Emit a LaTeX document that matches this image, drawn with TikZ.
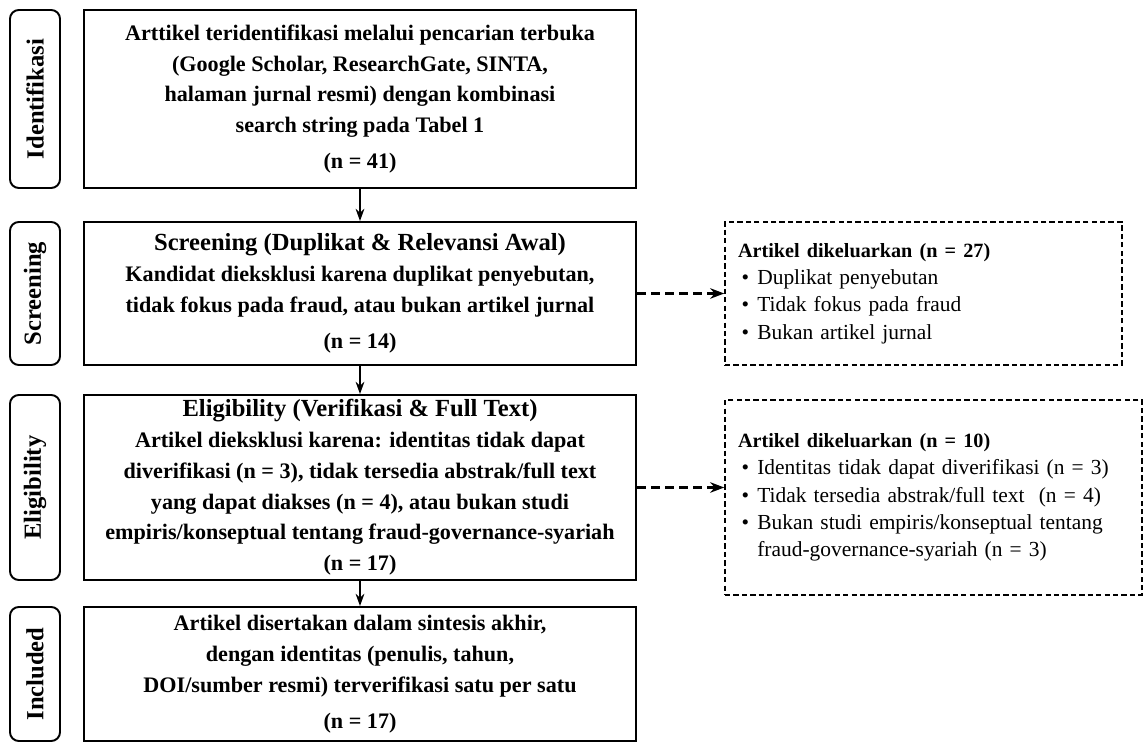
\documentclass[tikz,border=0pt]{standalone}
\usepackage{fontspec}
\setmainfont{Liberation Serif}
\usetikzlibrary{arrows.meta}

\begin{document}
\begin{tikzpicture}[
    phase/.style={draw=black, line width=1.1pt, rounded corners=5pt, minimum width=1cm, inner sep=0pt},
    stage/.style={draw=black, line width=1.1pt, minimum width=11.04cm, inner sep=0pt, align=center,
        font=\fontsize{12.6}{17.5}\selectfont\bfseries},
    excluded/.style={draw=black, line width=0.9pt, dash pattern=on 3pt off 1.8pt, inner xsep=0.26cm, inner ysep=0pt,
        align=left, font=\fontsize{12.2}{15.5}\selectfont},
    flow/.style={line width=0.9pt, -{Stealth[length=7pt,width=5pt]}},
    side/.style={line width=1.4pt, dash pattern=on 5pt off 3pt, -{Stealth[length=8pt,width=6pt]}}
]
    \useasboundingbox (0,0) rectangle (22.88,14.86);
    % stage labels on the left
    \node[phase, minimum height=3.56cm] (p1) at (0.7,12.88) {\rotatebox{90}{\fontsize{14}{16}\selectfont\bfseries Identifikasi}};
    \node[phase, minimum height=2.86cm] (p2) at (0.7,8.99) {\rotatebox{90}{\fontsize{14}{16}\selectfont\bfseries Screening}};
    \node[phase, minimum height=3.7cm] (p3) at (0.7,5.11) {\rotatebox{90}{\fontsize{14}{16}\selectfont\bfseries Eligibility}};
    \node[phase, minimum height=2.68cm] (p4) at (0.7,1.38) {\rotatebox{90}{\fontsize{14}{16}\selectfont\bfseries Included}};

    % main flow
    \node[stage, minimum height=3.56cm] (ident) at (7.2,12.88) {Arttikel teridentifikasi melalui pencarian terbuka\\
        (Google Scholar, ResearchGate, SINTA,\\ halaman jurnal resmi) dengan kombinasi\\
        search string pada Tabel 1\\[3pt] (n = 41)};
    \node[stage, minimum height=2.86cm] (screen) at (7.2,8.99) {{\fontsize{14}{17.5}\selectfont Screening (Duplikat \& Relevansi Awal)}\\
        Kandidat dieksklusi karena duplikat penyebutan,\\ tidak fokus pada fraud, atau bukan artikel jurnal\\[3pt] (n = 14)};
    \node[stage, minimum height=3.7cm] (elig) at (7.2,5.11) {{\fontsize{14}{17.5}\selectfont Eligibility (Verifikasi \& Full Text)}\\
        Artikel dieksklusi karena: identitas tidak dapat\\ diverifikasi (n = 3), tidak tersedia abstrak/full text\\
        yang dapat diakses (n = 4), atau bukan studi\\ empiris/konseptual tentang fraud-governance-syariah\\ (n = 17)};
    \node[stage, minimum height=2.68cm] (incl) at (7.2,1.38) {Artikel disertakan dalam sintesis akhir,\\
        dengan identitas (penulis, tahun,\\ DOI/sumber resmi) terverifikasi satu per satu\\[3pt] (n = 17)};

    % excluded records
    \node[excluded, minimum height=2.86cm, text width=7.42cm] (out1) at (18.47,8.99) {{\fontsize{11.5}{15.5}\selectfont\bfseries Artikel dikeluarkan (n = 27)}\\
        \hspace*{2pt}\makebox[9pt][l]{\textbullet}Duplikat penyebutan\\
        \hspace*{2pt}\makebox[9pt][l]{\textbullet}Tidak fokus pada fraud\\
        \hspace*{2pt}\makebox[9pt][l]{\textbullet}Bukan artikel jurnal};
    \node[excluded, minimum height=3.9cm, text width=7.82cm] (out2) at (18.67,4.91) {{\fontsize{11.5}{15.5}\selectfont\bfseries Artikel dikeluarkan (n = 10)}\\
        \hspace*{2pt}\makebox[9pt][l]{\textbullet}Identitas tidak dapat diverifikasi (n = 3)\\
        \hspace*{2pt}\makebox[9pt][l]{\textbullet}Tidak tersedia abstrak/full text\ \ (n = 4)\\
        \hspace*{2pt}\makebox[9pt][l]{\textbullet}Bukan studi empiris/konseptual tentang\\
        \hspace*{11pt}fraud-governance-syariah (n = 3)};

    \draw[flow] (ident) -- (screen);
    \draw[flow] (screen) -- (elig);
    \draw[flow] (elig) -- (incl);
    \draw[side] (screen) -- (out1);
    \draw[side] (elig.east) -- (elig.east -| out2.west);
\end{tikzpicture}
\end{document}
